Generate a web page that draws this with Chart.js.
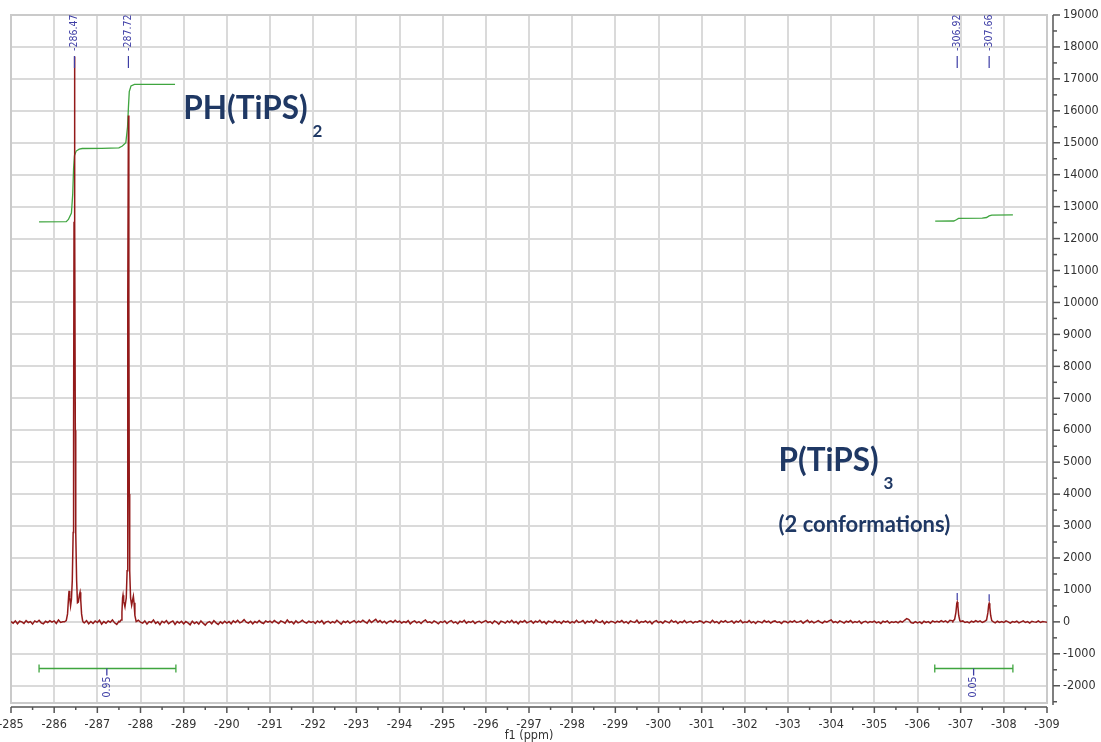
<!DOCTYPE html>
<html>
<head>
<meta charset="utf-8">
<script src="https://cdn.jsdelivr.net/npm/chart.js@4.4.1/dist/chart.umd.min.js"></script>
<style>
  html, body { margin: 0; padding: 0; background: #fff; }
  #wrap { position: relative; width: 1101px; height: 742px; }
</style>
</head>
<body>
<div id="wrap"><canvas id="c"></canvas></div>
<script>
// 31P spectrum, f1 in ppm (axis runs -285 -> -309)
const FONT = "'DejaVu Sans Condensed', 'DejaVu Sans', sans-serif";

// tick values
const xTicks = [-285,-286,-287,-288,-289,-290,-291,-292,-293,-294,-295,-296,-297,-298,-299,-300,-301,-302,-303,-304,-305,-306,-307,-308,-309];
const yTicks = [-2000,-1000,0,1000,2000,3000,4000,5000,6000,7000,8000,9000,10000,11000,12000,13000,14000,15000,16000,17000,18000,19000];

// baseline noise, sampled every 0.05 ppm from -285.00
const noiseStart = -285.0, noiseStep = -0.05;
const noise = [
  10,-40,30,-60,20,0,-50,40,-20,10,-70,30,-10,50,-30,-60,20,-20,40,-10,
  30,-50,60,-20,0,-30,20,-40,10,-20,30,-10,0,20,-30,40,-60,10,-50,30,
  -20,50,-70,10,-40,30,-10,60,-30,-80,20,-50,10,-20,0,30,-40,20,-30,50,
  -10,-40,30,-70,10,-20,60,-50,0,-90,20,-30,40,-60,-10,30,-80,10,-40,20,
  -60,10,-30,-90,20,-50,0,-70,30,-40,-100,-20,10,-60,40,-30,-80,0,-50,20,
  -40,10,-60,30,-20,50,-30,0,70,-10,-40,20,-60,10,-30,40,-20,-50,30,-10,
  20,-30,40,-10,-50,30,0,-40,60,-20,10,-60,30,-30,0,50,-10,-40,20,-20,
  10,-50,30,-20,40,-60,0,20,-40,10,-30,50,-10,-70,20,-20,30,-40,0,40,
  -30,20,-10,50,0,-40,60,-20,30,80,-10,40,-30,20,-50,10,30,-20,50,-10,
  20,-40,10,-20,40,-60,0,30,-30,10,-50,20,60,-20,0,-40,30,-10,-60,10,
  -20,30,-50,10,40,-30,0,-60,20,-10,50,-40,10,-20,30,-50,0,20,-30,10,
  40,-20,10,-50,30,-10,-70,20,0,-40,30,-20,50,-30,10,-60,20,-10,40,-30,
  0,30,-40,20,-10,50,-30,10,-60,20,0,-30,40,-20,10,-50,30,-10,20,-40,
  10,-30,50,-20,0,40,-50,20,-10,30,-40,60,0,-20,30,-60,10,-30,20,0,
  -40,20,-10,40,-30,10,-50,30,0,-20,50,-40,10,-10,30,-30,20,-60,10,40,
  -20,10,-40,30,0,-30,50,-10,20,-50,10,-20,40,-30,0,20,-40,10,-10,30,
  10,-40,20,0,-30,50,-20,10,-50,30,-10,40,-20,0,30,-40,20,-10,50,-30,
  0,-20,40,-30,10,-50,20,0,-30,40,-10,20,-40,10,30,-20,0,-50,20,10,
  -30,20,-10,40,-20,0,30,-40,10,50,-20,20,-30,0,40,-10,-40,20,-10,30,
  60,-20,10,-30,30,0,-40,20,-10,40,-30,10,-20,30,-50,0,20,-30,10,-10,
  20,-30,0,-50,20,-10,30,-40,0,-20,10,-30,20,-10,50,100,70,-20,-40,10,
  -30,0,-50,20,-20,10,-40,30,0,20,-10,40,0,30,-20,50,40,60,20,-10,
  10,30,-20,0,-30,20,-10,40,0,30,-20,10,30,40,20,-10,-30,20,-20,10,
  -20,30,0,-40,10,-10,20,-30,0,30,-20,10,-40,20,0,-10,30,-20,10,0,
  -10
];

// signals (ppm windows replace the baseline)
const peakWindows = [[-286.24, -286.68], [-287.52, -287.90], [-306.82, -307.00], [-307.56, -307.76]];
const peakPpm = [
  -286.24,-286.28,-286.31,-286.335,-286.345,-286.36,-286.38,-286.40,-286.42,-286.44,-286.45,-286.46,
  -286.47,-286.48,-286.49,-286.50,-286.52,-286.54,-286.56,-286.585,-286.60,-286.615,-286.635,-286.66,-286.68,
  -287.52,-287.55,-287.57,-287.585,-287.595,-287.61,-287.64,-287.67,-287.69,-287.70,-287.71,
  -287.72,-287.73,-287.74,-287.75,-287.77,-287.795,-287.82,-287.835,-287.85,-287.87,-287.90,
  -306.82,-306.86,-306.89,-306.91,-306.92,-306.935,-306.955,-306.98,-307.00,
  -307.56,-307.60,-307.63,-307.65,-307.66,-307.675,-307.695,-307.72,-307.76
];
const peakInt = [
  0,40,250,800,970,760,500,700,1300,2800,6000,12500,
  17700,12500,6000,2800,1300,600,620,850,930,700,250,30,-20,
  0,60,300,750,835,650,470,750,1600,4000,10000,
  15850,10000,4000,1600,750,520,700,800,600,200,10,
  20,80,300,580,620,500,200,40,10,
  10,60,280,540,580,460,200,40,0
];

// integral curves
const int1Ppm = [-285.65,-286.28,-286.33,-286.40,-286.43,-286.45,-286.47,-286.51,-286.58,-286.65,-287.10,-287.50,-287.58,-287.66,-287.70,-287.72,-287.74,-287.78,-287.86,-288.80];
const int1Val = [12520,12530,12600,12800,13400,14200,14600,14740,14800,14820,14825,14840,14900,15000,15500,16100,16600,16780,16830,16830];
const int2Ppm = [-306.41,-306.84,-306.90,-306.95,-307.50,-307.60,-307.66,-307.72,-308.21];
const int2Val = [12545,12550,12590,12630,12640,12660,12710,12735,12740];

// integral ranges and values
const integralFrom = [-285.65, -306.40];
const integralTo = [-288.82, -308.21];
const integralAt = [-287.22, -307.30];
const integralText = ['0.95', '0.05'];
const integralLevel = -1460;

// peak picks
const pickPpm = [-286.47, -287.72, -306.92, -307.66];
const pickTop = [17700, 15850, 620, 580];

// text labels: [text, subscript, ppm, intensity(baseline), size]
const notes = [
  ['PH(TiPS)', '2', -288.99, 15735, 31.5],
  ['P(TiPS)', '3', -302.78, 4728, 31.5],
  ['(2 conformations)', '', -302.78, 2818, 22]
];

function inWindow(p) { return peakWindows.some(w => p <= w[0] + 1e-9 && p >= w[1] - 1e-9); }
const spectrum = [];
noise.forEach((v, i) => {
  const p = +(noiseStart + i * noiseStep).toFixed(2);
  if (!inWindow(p)) spectrum.push({ x: p, y: v });
});
peakPpm.forEach((p, i) => spectrum.push({ x: p, y: peakInt[i] }));
spectrum.sort((a, b) => b.x - a.x);

const zip = (xs, ys) => xs.map((x, i) => ({ x, y: ys[i] }));

const lineDs = (data, color, w) => ({ data, borderColor: color, borderWidth: w || 1.3, pointRadius: 0, tension: 0, fill: false });
const datasets = [
  lineDs(spectrum, '#931a1a', 1.5),
  lineDs(zip(int1Ppm, int1Val), '#3fa53f'),
  lineDs(zip(int2Ppm, int2Val), '#3fa53f')
];
integralFrom.forEach((f, i) => datasets.push(lineDs([{ x: f, y: integralLevel }, { x: integralTo[i], y: integralLevel }], '#3fa53f')));

const decor = {
  id: 'decor',
  beforeDatasetsDraw(chart) {
    const { ctx, chartArea: a } = chart;
    ctx.save();
    ctx.strokeStyle = '#cacaca';
    ctx.lineWidth = 2;
    ctx.strokeRect(a.left, a.top, a.right - a.left, a.bottom - a.top);
    ctx.restore();
  },
  afterDraw(chart) {
    const { ctx, chartArea: a, scales: { x, y } } = chart;
    ctx.save();
    const seg = (x1, y1, x2, y2) => { ctx.beginPath(); ctx.moveTo(x1, y1); ctx.lineTo(x2, y2); ctx.stroke(); };

    // axes
    ctx.strokeStyle = '#555';
    ctx.lineWidth = 1.5;
    const ax = a.right + 6, ay = a.bottom + 4;
    seg(ax, a.top, ax, a.bottom + 2);
    for (let v = -2500; v <= 19000; v += 500) {
      const py = y.getPixelForValue(v);
      seg(ax, py, ax + (v % 1000 === 0 ? 7 : 4), py);
    }
    seg(a.left, ay, a.right, ay);
    for (let v = -285; v >= -309; v -= 0.5) {
      const px = x.getPixelForValue(v);
      seg(px, ay, px, ay + (Number.isInteger(v) ? 6 : 3));
    }

    // integral end caps + value labels
    ctx.strokeStyle = '#3fa53f';
    ctx.lineWidth = 1.3;
    const iy = y.getPixelForValue(integralLevel);
    integralFrom.forEach((f, i) => {
      [f, integralTo[i]].forEach(p => { const px = x.getPixelForValue(p); seg(px, iy - 4, px, iy + 4); });
    });
    ctx.strokeStyle = '#3d3da5';
    ctx.fillStyle = '#3d3da5';
    ctx.font = '10.5px ' + FONT;
    integralAt.forEach((p, i) => {
      const px = x.getPixelForValue(p);
      seg(px, iy, px, iy + 7);
      ctx.save();
      ctx.translate(px, iy + 8);
      ctx.rotate(-Math.PI / 2);
      ctx.textAlign = 'right';
      ctx.textBaseline = 'middle';
      ctx.fillText(integralText[i], 0, 0);
      ctx.restore();
    });

    // peak picks
    pickPpm.forEach((p, i) => {
      const px = x.getPixelForValue(p);
      ctx.lineWidth = 1.2;
      seg(px, a.top + 41, px, a.top + 53);
      if (pickTop[i] < 10000) {
        const py = y.getPixelForValue(pickTop[i]);
        seg(px, py - 9, px, py - 2);
      }
      ctx.save();
      ctx.translate(px, a.top + 36);
      ctx.rotate(-Math.PI / 2);
      ctx.textAlign = 'left';
      ctx.textBaseline = 'middle';
      ctx.fillText(p.toFixed(2), 0, 0);
      ctx.restore();
    });

    // compound labels
    ctx.fillStyle = '#1f3864';
    ctx.textBaseline = 'alphabetic';
    ctx.textAlign = 'left';
    notes.forEach(([t, sub, p, v, size]) => {
      const px = x.getPixelForValue(p), py = y.getPixelForValue(v);
      ctx.font = 'bold ' + size + 'px Lato';
      ctx.fillText(t, px, py);
      if (sub) {
        const w = ctx.measureText(t).width;
        ctx.font = 'bold 17px Lato';
        ctx.fillText(sub, px + w + 5, py + 18);
      }
    });

    // axis title
    ctx.fillStyle = '#333';
    ctx.font = '12.5px ' + FONT;
    ctx.textAlign = 'center';
    ctx.textBaseline = 'middle';
    ctx.fillText('f1 (ppm)', (a.left + a.right) / 2, a.bottom + 33);
    ctx.restore();
  }
};

new Chart(document.getElementById('c'), {
  type: 'line',
  data: { datasets },
  plugins: [decor],
  options: {
    responsive: true,
    maintainAspectRatio: false,
    animation: false,
    layout: { padding: { left: 11, right: 3, top: 15, bottom: 0 } },
    plugins: { legend: { display: false }, tooltip: { enabled: false } },
    scales: {
      x: {
        type: 'linear', reverse: true, min: -309, max: -285,
        afterBuildTicks: s => { s.ticks = xTicks.map(v => ({ value: v })); },
        afterFit: s => { s.height = 39; s.paddingLeft = 0; s.paddingRight = 0; },
        ticks: { autoSkip: false, maxRotation: 0, padding: 15, color: '#333',
                 font: { family: FONT, size: 12.5, lineHeight: 1 }, callback: v => String(v) },
        grid: { color: '#dadada', lineWidth: 2, drawTicks: false },
        border: { display: false }
      },
      y: {
        type: 'linear', position: 'right', min: -2540, max: 19000,
        afterBuildTicks: s => { s.ticks = yTicks.map(v => ({ value: v })); },
        afterFit: s => { s.width = 51; s.paddingTop = 0; s.paddingBottom = 0; },
        ticks: { autoSkip: false, padding: 16, color: '#333',
                 font: { family: FONT, size: 12.5, lineHeight: 1 }, callback: v => String(v) },
        grid: { color: '#dadada', lineWidth: 2, drawTicks: false },
        border: { display: false }
      }
    }
  }
});
</script>
</body>
</html>
